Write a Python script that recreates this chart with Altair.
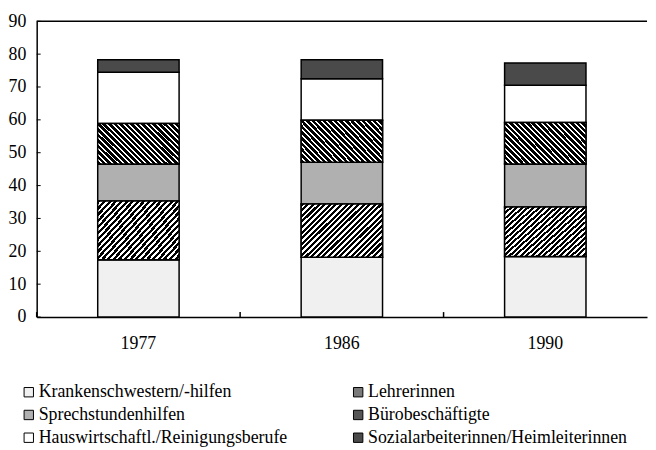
import altair as alt
import pandas as pd

years = ["1977", "1986", "1990"]
categories = [
    "Krankenschwestern/-hilfen",
    "Lehrerinnen",
    "Sprechstundenhilfen",
    "Bürobeschäftigte",
    "Hauswirtschaftl./Reinigungsberufe",
    "Sozialarbeiterinnen/Heimleiterinnen",
]
kranken = [17.4, 18.2, 18.4]
lehrer = [17.9, 16.2, 15.1]
sprech = [11.3, 12.7, 13.1]
buero = [12.3, 12.8, 12.6]
haus = [15.6, 12.6, 11.3]
sozial = [3.8, 5.8, 6.8]
series = [kranken, lehrer, sprech, buero, haus, sozial]
fills = ["#f0f0f0", "#7a7a7a", "#b0b0b0", "#555555", "#ffffff", "#4a4a4a"]
y_ticks = [0, 10, 20, 30, 40, 50, 60, 70, 80, 90]

FONT = "Liberation Serif"
W, H = 617, 299

rows = []
for i, c in enumerate(categories):
    for yr, v in zip(years, series[i]):
        rows.append({"year": yr, "cat": c, "idx": i, "value": v})
df = pd.DataFrame(rows)

x_scale = alt.Scale(domain=years, paddingInner=0, paddingOuter=0)
y_scale = alt.Scale(domain=[0, 90], nice=False)

x_axis = alt.Axis(title=None, labelAngle=0, tickSize=0, labelPadding=18,
                  domainColor="black", domainWidth=1.5, labelFont=FONT,
                  labelFontSize=18, labelColor="black")
y_axis = alt.Axis(title=None, values=y_ticks, tickSize=0, labelPadding=11,
                  grid=False, domainColor="black", domainWidth=1.5,
                  labelFont=FONT, labelFontSize=18, labelColor="black")

bars = alt.Chart(df).mark_bar(width={"band": 0.4}, stroke="black", strokeWidth=1.5).encode(
    x=alt.X("year:N", scale=x_scale, sort=years, axis=x_axis),
    y=alt.Y("value:Q", stack="zero", scale=y_scale, axis=y_axis),
    fill=alt.Fill("cat:N", scale=alt.Scale(domain=categories, range=fills),
                  legend=alt.Legend(title=None, orient="none", legendX=-17, legendY=366,
                                    columns=2, direction="horizontal",
                                    symbolType="square", symbolSize=90,
                                    symbolStrokeColor="black", symbolStrokeWidth=1,
                                    labelFont=FONT, labelFontSize=18, labelColor="black",
                                    columnPadding=62, rowPadding=5, labelOffset=1,
                                    labelLimit=400)),
    order=alt.Order("idx:Q", sort="ascending"),
)


def stripes(n, frac, forward, r):
    stops = []
    for k in range(n):
        a = k / n
        b = (k + frac) / n
        c = (k + 1) / n
        stops += [alt.GradientStop(offset=a, color="black"),
                  alt.GradientStop(offset=b, color="black"),
                  alt.GradientStop(offset=b, color="white"),
                  alt.GradientStop(offset=c, color="white")]
    s = (1 + r) / (1 + r * r)
    if forward:
        return alt.LinearGradient(gradient="linear", stops=stops, x1=0, y1=0, x2=s, y2=s * r)
    return alt.LinearGradient(gradient="linear", stops=stops, x1=0, y1=1, x2=s, y2=1 - s * r)


def hatch_layer(cat_index, grad):
    return alt.Chart(df).transform_stack(
        stack="value", groupby=["year"], as_=["v0", "v1"],
        sort=[alt.SortField("idx", order="ascending")],
    ).transform_filter(
        alt.datum.idx == cat_index
    ).mark_bar(width={"band": 0.4}, stroke="black", strokeWidth=1.5, fill=grad).encode(
        x=alt.X("year:N", scale=x_scale, sort=years, axis=x_axis),
        y=alt.Y("v0:Q", scale=y_scale, axis=y_axis),
        y2="v1:Q",
    )


lehrer_h = hatch_layer(1, stripes(24, 0.55, True, 0.66))
buero_h = hatch_layer(3, stripes(22, 0.65, False, 0.5))

yticks = alt.Chart(pd.DataFrame({"value": y_ticks})).mark_rule(color="black", strokeWidth=1).encode(
    y=alt.Y("value:Q", scale=y_scale, axis=y_axis),
    x=alt.value(0),
    x2=alt.value(4),
)

xticks = alt.Chart(pd.DataFrame({"year": years})).mark_rule(color="black", strokeWidth=1.5).encode(
    x=alt.X("year:N", scale=x_scale, sort=years, bandPosition=0, axis=x_axis),
    y=alt.value(H - 5),
    y2=alt.value(H),
)

top = alt.Chart(pd.DataFrame({"value": [y_ticks[-1]]})).mark_rule(color="black", strokeWidth=1.5).encode(
    y=alt.Y("value:Q", scale=y_scale, axis=y_axis),
)

chart = alt.layer(bars, lehrer_h, buero_h, yticks, xticks, top).properties(
    width=W, height=H,
    padding={"left": 0, "top": 2, "right": 0, "bottom": 0},
).configure_view(stroke=None)

chart.save("out.html", embed_options={"renderer": "svg", "actions": False})
